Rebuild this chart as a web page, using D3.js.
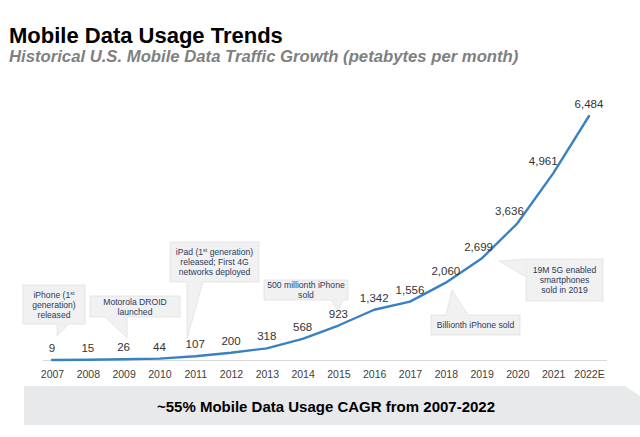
<!DOCTYPE html>
<html><head><meta charset="utf-8">
<script src="https://cdn.jsdelivr.net/npm/d3@7"></script>
<style>
html,body{margin:0;padding:0;background:#fff;}
svg{display:block;font-family:"Liberation Sans",Arial,sans-serif;}
</style></head>
<body><svg id="chart" width="640" height="437"></svg>
<script>
// ---- data ----
const years = ["2007","2008","2009","2010","2011","2012","2013","2014","2015","2016","2017","2018","2019","2020","2021","2022E"];
const traffic = [9,15,26,44,107,200,318,568,923,1342,1556,2060,2699,3636,4961,6484];
const title = "Mobile Data Usage Trends";
const subtitle = "Historical U.S. Mobile Data Traffic Growth (petabytes per month)";
const footer = "~55% Mobile Data Usage CAGR from 2007-2022";
const noteLines = [
  [["iPhone (1","st"],["generation)"],["released"]],
  [["Motorola DROID"],["launched"]],
  [["iPad (1","st"," generation)"],["released; First 4G"],["networks deployed"]],
  [["500 millionth iPhone"],["sold"]],
  [["Billionth iPhone sold"]],
  [["19M 5G enabled"],["smartphones"],["sold in 2019"]]
];

// ---- layout (pixels) ----
const W = 640, H = 437;
const svg = d3.select("#chart");
const x = d3.scalePoint().domain(years).range([52, 589]);
const y = d3.scaleLinear().domain([0, 6484]).range([360.3, 116]);
const labelDx = {"2019": -3, "2020": -8, "2021": -10};

// title
svg.append("text").attr("x", 9).attr("y", 43).attr("font-size", 22).attr("font-weight", "bold")
  .attr("fill", "#000").text(title);
svg.append("text").attr("x", 9).attr("y", 62).attr("font-size", 16.7).attr("font-weight", "bold")
  .attr("font-style", "italic").attr("fill", "#808080").text(subtitle);

// baseline
svg.append("line").attr("x1", 43).attr("x2", 607).attr("y1", 360.5).attr("y2", 360.5)
  .attr("stroke", "#d9d9d9").attr("stroke-width", 1);

// axis
const axis = d3.axisBottom(x).tickSize(0).tickPadding(11);
const ag = svg.append("g").attr("transform", "translate(0,360)").call(axis);
ag.select(".domain").remove();
ag.selectAll("text").attr("font-size", 10.5).attr("fill", "#404040")
  .attr("font-family", "Liberation Sans, Arial, sans-serif");

// callouts
const notes = [
  {box:[23,285,62,39], ptr:[[57,324],[69,324],[57,336]]},
  {box:[90,296,90,21], ptr:[[105,317],[127,317],[127,338]]},
  {box:[170,242,89,40], ptr:[[187,282],[203,282],[187,339]]},
  {box:[264,280,84,20], ptr:[[331,300],[343,300],[338,311]]},
  {box:[431,315,89,20], ptr:[[468,315],[446,315],[452,290]]},
  {box:[526,259,77,42], ptr:[[526,277],[526,259],[499,261]]}
];
notes.forEach((n, i) => {
  const [bx, by, bw, bh] = n.box;
  svg.append("rect").attr("x", bx).attr("y", by).attr("width", bw).attr("height", bh)
    .attr("fill", "#f1f1f1").attr("stroke", "#e2e2e2").attr("stroke-width", 0.8);
  svg.append("path").attr("d", d3.line()(n.ptr) + "Z")
    .attr("fill", "#f1f1f1").attr("stroke", "#e2e2e2").attr("stroke-width", 0.8);
  // cover stroke where pointer joins box
  svg.append("path").attr("d", d3.line()(n.ptr.slice(0,2)))
    .attr("stroke", "#f1f1f1").attr("stroke-width", 1.6);
  const lines = noteLines[i];
  const lh = 10;
  const cy = by + bh / 2 - (lines.length - 1) * lh / 2;
  lines.forEach((parts, j) => {
    const t = svg.append("text").attr("x", bx + bw / 2).attr("y", cy + j * lh)
      .attr("dy", "0.35em").attr("text-anchor", "middle").attr("font-size", 8.6).attr("fill", "#2a3a5c");
    parts.forEach((p, k) => {
      const ts = t.append("tspan").text(p);
      if (p === "st") ts.attr("font-size", 5.5).attr("dy", -3);
      else if (k > 0) ts.attr("dy", 3);
    });
  });
});

// line
svg.append("path").datum(traffic)
  .attr("d", d3.line().x((d, i) => x(years[i])).y(d => y(d)))
  .attr("fill", "none").attr("stroke", "#3a80c3").attr("stroke-width", 2.4)
  .attr("stroke-linejoin", "round").attr("stroke-linecap", "round");

// value labels
svg.append("g").selectAll("text").data(traffic).join("text")
  .attr("x", (d, i) => x(years[i]) + (labelDx[years[i]] || 0))
  .attr("y", d => y(d) - 12).attr("dy", "0.35em")
  .attr("text-anchor", "middle").attr("font-size", 11.5).attr("fill", "#333")
  .text(d => d3.format(",")(d));

// footer band
svg.append("path").attr("d", "M24,386 L625,386 L640,396 L640,425 L24,425 Z").attr("fill", "#e8e9eb");
svg.append("text").attr("x", 326).attr("y", 407).attr("dy", "0.35em").attr("text-anchor", "middle")
  .attr("font-size", 15).attr("font-weight", "bold").attr("fill", "#000").text(footer);
</script></body></html>
